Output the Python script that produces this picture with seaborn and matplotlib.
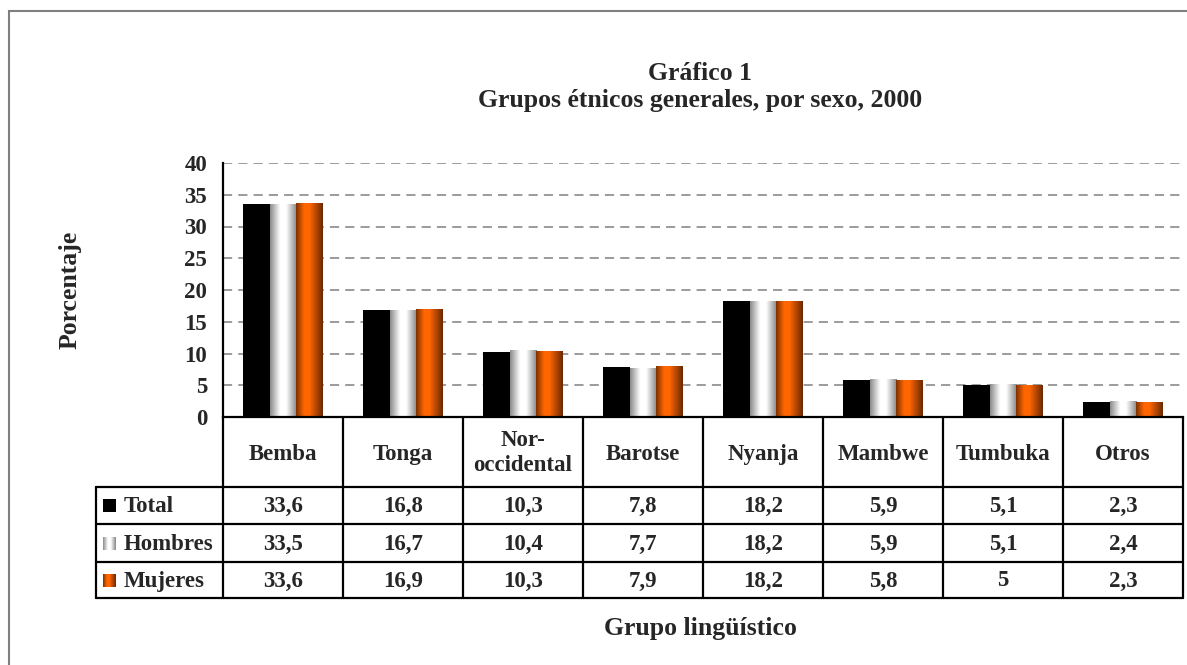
import numpy as np
import pandas as pd
import seaborn as sns
import matplotlib
matplotlib.use("Agg")
import matplotlib.pyplot as plt
from matplotlib.colors import LinearSegmentedColormap
from matplotlib.transforms import blended_transform_factory
from matplotlib.patches import Rectangle
from matplotlib.lines import Line2D

# ---------------- data ----------------
categorias = ["Bemba", "Tonga", "Nor-\noccidental", "Barotse", "Nyanja",
              "Mambwe", "Tumbuka", "Otros"]
series = ["Total", "Hombres", "Mujeres"]
total = [33.6, 16.8, 10.3, 7.8, 18.2, 5.9, 5.1, 2.3]
hombres = [33.5, 16.7, 10.4, 7.7, 18.2, 5.9, 5.1, 2.4]
mujeres = [33.6, 16.9, 10.3, 7.9, 18.2, 5.8, 5, 2.3]
yticks = [0, 5, 10, 15, 20, 25, 30, 35, 40]

titulo1 = "Gráfico 1"
titulo2 = "Grupos étnicos generales, por sexo, 2000"
ylab = "Porcentaje"
xlab = "Grupo lingüístico"

valores = {"Total": total, "Hombres": hombres, "Mujeres": mujeres}
df = pd.DataFrame([
    {"grupo": c, "serie": s, "valor": valores[s][i]}
    for s in series for i, c in enumerate(categorias)
])

# ---------------- style ----------------
sns.set_style("white")
plt.rcParams["font.family"] = ["Liberation Serif", "DejaVu Serif"]
plt.rcParams["font.weight"] = "bold"

W, H = 1187, 665
fig = plt.figure(figsize=(W / 100, H / 100), dpi=100)


def fx(p):
    return p / W


def fy(p):
    return 1 - p / H


ax_l, ax_r, ax_t, ax_b = 223, 1183, 163, 417
ax = fig.add_axes([fx(ax_l), fy(ax_b), fx(ax_r - ax_l), (ax_b - ax_t) / H])

palette = {"Total": "#000000", "Hombres": "#c0c0c0", "Mujeres": "#ff6600"}
sns.barplot(data=df, x="grupo", y="valor", hue="serie", order=categorias,
            hue_order=series, palette=palette, width=2 / 3, gap=0,
            saturation=1, linewidth=0, edgecolor="none", legend=False,
            errorbar=None, ax=ax)

cmap_gray = LinearSegmentedColormap.from_list(
    "g", [(0, "#8a8a8a"), (0.38, "#ffffff"), (0.6, "#ffffff"), (1, "#858585")])
cmap_orange = LinearSegmentedColormap.from_list(
    "o", [(0, "#7a3000"), (0.3, "#ff6600"), (0.5, "#ff6600"), (1, "#6a2800")])
grad = np.linspace(0, 1, 256).reshape(1, -1)
cmaps = {"Hombres": cmap_gray, "Mujeres": cmap_orange}

for s, cont in zip(series, ax.containers):
    if s not in cmaps:
        continue
    for bar in cont:
        x0 = bar.get_x()
        w = bar.get_width()
        h = bar.get_height()
        ax.imshow(grad, cmap=cmaps[s], extent=(x0, x0 + w, 0, h),
                  aspect="auto", interpolation="bilinear",
                  zorder=bar.get_zorder() + 0.1)

ax.set_xlim(-0.5, len(categorias) - 0.5)
ax.set_ylim(0, 40)
ax.set_yticks(yticks)
ax.set_xticks([])
ax.set_xlabel("")
ax.set_ylabel("")
ax.set_axisbelow(True)
ax.yaxis.grid(True, linestyle=(0, (6, 4)), color="#808080", linewidth=1.1)
ax.xaxis.grid(False)
for side in ["top", "right"]:
    ax.spines[side].set_visible(False)
for side in ["left", "bottom"]:
    ax.spines[side].set_color("black")
    ax.spines[side].set_linewidth(1.6)
ax.tick_params(axis="y", direction="inout", length=9, width=1.6,
               color="black", labelsize=16.5, pad=7)
for lab in ax.get_yticklabels():
    lab.set_fontweight("bold")

# ---------------- data table ----------------
tr = blended_transform_factory(ax.transData, fig.transFigure)
rows = [417, 487, 524, 562, 598]
lw = 1.6
for i in range(len(categorias) + 1):
    fig.add_artist(Line2D([i - 0.5, i - 0.5], [fy(rows[0]), fy(rows[-1])],
                          transform=tr, color="black", lw=lw))
for r in rows[1:]:
    fig.add_artist(Line2D([fx(96), fx(ax_r)], [fy(r), fy(r)],
                          transform=fig.transFigure, color="black", lw=lw))
fig.add_artist(Line2D([fx(96), fx(96)], [fy(rows[1]), fy(rows[-1])],
                      transform=fig.transFigure, color="black", lw=lw))

fs_tab = 16.5
for i, c in enumerate(categorias):
    multi = "\n" in c
    ax.text(i, fy((rows[0] + rows[1]) / 2 + (1 if multi else 0)), c,
            transform=tr, ha="center",
            va="center" if multi else "center_baseline",
            fontsize=fs_tab, fontweight="bold", linespacing=1.2)


def fmt(v):
    return f"{v:g}".replace(".", ",")


icon_maps = {"Total": None, "Hombres": cmap_gray, "Mujeres": cmap_orange}
for k, s in enumerate(series):
    yc = (rows[k + 1] + rows[k + 2]) / 2
    for i, v in enumerate(valores[s]):
        ax.text(i, fy(yc - 1.5), fmt(v), transform=tr, ha="center",
                va="center_baseline", fontsize=fs_tab, fontweight="bold")
    iax = fig.add_axes([fx(103), fy(yc + 6.5), fx(13), 13 / H])
    if icon_maps[s] is None:
        iax.imshow(np.zeros((1, 2)), cmap="gray", vmin=0, vmax=1,
                   aspect="auto")
    else:
        iax.imshow(grad, cmap=icon_maps[s], aspect="auto",
                   interpolation="bilinear")
    iax.set_axis_off()
    fig.text(fx(124), fy(yc - 1.5), s, ha="left", va="center_baseline",
             fontsize=fs_tab, fontweight="bold")

# ---------------- titles ----------------
fig.text(fx(700), fy(74), titulo1, ha="center", va="center", fontsize=18.5,
         fontweight="bold")
fig.text(fx(700), fy(101), titulo2, ha="center", va="center", fontsize=18.5,
         fontweight="bold")
fig.text(fx(70), fy(290), ylab, ha="center", va="center", rotation=90,
         fontsize=18.5, fontweight="bold")
fig.text(fx(700), fy(628), xlab, ha="center", va="center", fontsize=18.5,
         fontweight="bold")

# outer frame (extends beyond the visible image on right and bottom)
fig.add_artist(Rectangle((fx(9), -0.2), 1.2, fy(11) + 0.2, fill=False,
                         edgecolor="#7f7f7f", lw=1.5,
                         transform=fig.transFigure))

fig.savefig("out.png", dpi=100)
